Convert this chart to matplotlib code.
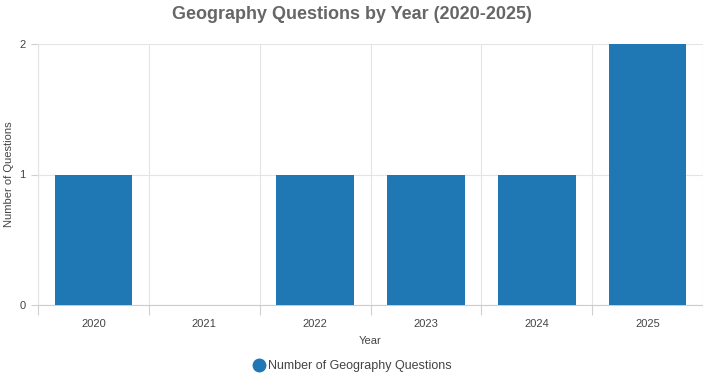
import numpy as np
import matplotlib.pyplot as plt
from matplotlib.lines import Line2D

plt.rcParams['font.family'] = ['Liberation Sans', 'DejaVu Sans']

# Data
years = ['2020', '2021', '2022', '2023', '2024', '2025']
counts = [1, 0, 1, 1, 1, 2]

bar_color = '#1f77b4'
grid_color = '#e4e4e4'
text_color = '#666666'

fig = plt.figure(figsize=(7.03, 3.81), dpi=100)
ax = fig.add_axes([38 / 703, 1 - 305 / 381, 665 / 703, 261 / 381])

x = np.arange(len(years))
ax.bar(x, counts, width=0.7, color=bar_color, linewidth=0, zorder=3)

ax.set_xlim(-0.5, len(years) - 0.5)
ax.set_ylim(0, 2)

# major ticks in the middle of categories, minor at boundaries for grid
ax.set_xticks(x)
ax.set_xticklabels(years)
ax.set_xticks(np.arange(len(years) + 1) - 0.5, minor=True)
ax.tick_params(axis='x', which='major', length=0, pad=10, labelsize=8, labelcolor='#444444')
ax.tick_params(axis='x', which='minor', length=7, color='#d0d0d0', width=0.8)
ax.set_yticks([0, 1, 2])
ax.tick_params(axis='y', length=5, color='#d0d0d0', width=0.8, pad=4,
               labelsize=8, labelcolor='#444444')

ax.grid(axis='x', which='minor', color=grid_color, linewidth=0.8, zorder=0)
ax.grid(axis='y', which='major', color=grid_color, linewidth=0.8, zorder=0)

for side in ['top', 'right']:
    ax.spines[side].set_visible(False)
ax.spines['left'].set_color(grid_color)
ax.spines['left'].set_linewidth(0.8)
ax.spines['bottom'].set_color('#cccccc')
ax.spines['bottom'].set_linewidth(0.8)

ax.set_xlabel('Year', fontsize=8, color='#444444', labelpad=5)
ax.set_ylabel('Number of Questions', fontsize=8, color='#444444', labelpad=4)

fig.suptitle('Geography Questions by Year (2020-2025)', fontsize=13,
             fontweight='bold', color=text_color, y=0.985)

handle = Line2D([0], [0], marker='o', linestyle='none', markersize=9,
                markerfacecolor=bar_color, markeredgecolor=bar_color)
fig.legend(handles=[handle], labels=['Number of Geography Questions'],
           loc='center', bbox_to_anchor=(0.5, 1 - 366 / 381), frameon=False,
           fontsize=9, labelcolor='#444444', handletextpad=0.1,
           handlelength=1.2)

fig.savefig('out.png', dpi=100)
